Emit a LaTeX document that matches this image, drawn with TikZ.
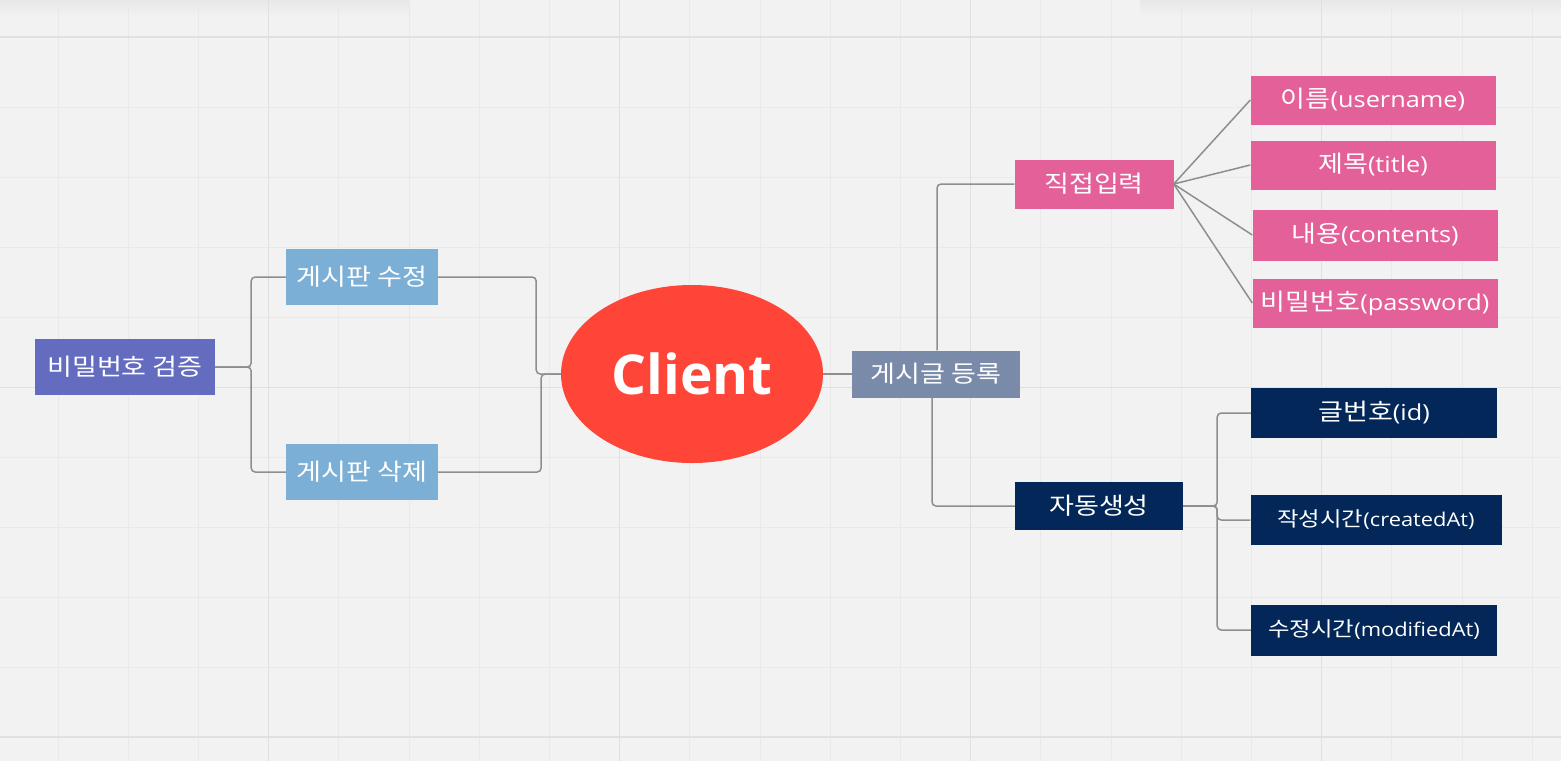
\documentclass[tikz,border=0pt]{standalone}
\usepackage{fontspec}
\setmainfont{Open Sans}[FakeStretch=1.15]
\newfontfamily\krfont{Noto Sans CJK KR}[FakeStretch=1.15, Scale=1.07]
\newfontfamily\bigfont{Open Sans}
\newcommand\ko[1]{{\krfont #1}}
\usetikzlibrary{shapes.geometric}
\definecolor{bg}{HTML}{F2F2F2}
\definecolor{gridminor}{HTML}{E9E9E9}
\definecolor{gridmajor}{HTML}{E0E0E0}
\definecolor{linegray}{HTML}{8E8E8E}
\definecolor{verifyblue}{HTML}{646CC0}
\definecolor{boardblue}{HTML}{7BAFD5}
\definecolor{clientred}{HTML}{FF4538}
\definecolor{postslate}{HTML}{7A8AA9}
\definecolor{inputpink}{HTML}{E36098}
\definecolor{autonavy}{HTML}{022758}
\begin{document}
\begin{tikzpicture}[x=1pt, y=-1pt,
    box/.style = {rectangle, inner sep=0pt, text=white, font=\fontsize{22}{26}\selectfont},
    small/.style = {font=\fontsize{19}{23}\selectfont},
    link/.style = {draw=linegray, line width=1.5pt, rounded corners=4pt}]
    % background and grid
    \fill[bg] (0,0) rectangle (1561,761);
    \useasboundingbox (0,0) rectangle (1561,761);
    \shade[top color=gray!18, bottom color=bg] (0,0) rectangle (410,16);
    \shade[top color=gray!18, bottom color=bg] (1140,0) rectangle (1561,16);
    \foreach \i in {0,...,21}
        \draw[gridminor, line width=1pt] (58+70.2*\i,0) -- (58+70.2*\i,761);
    \foreach \j in {0,...,10}
        \draw[gridminor, line width=1pt] (0,37+70*\j) -- (1561,37+70*\j);
    \foreach \x in {268,619,970,1321}
        \draw[gridmajor, line width=1pt] (\x,0) -- (\x,761);
    \foreach \y in {37,737}
        \draw[gridmajor, line width=2pt] (0,\y) -- (1561,\y);
    \draw[gridmajor, line width=1pt] (0,387) -- (1561,387);

    % nodes
    \node[ellipse, fill=clientred, minimum width=262, minimum height=178, inner sep=0pt,
          text=white, font=\bigfont\bfseries\fontsize{55}{60}\selectfont] (client) at (692,374) {Client};
    \node[box, fill=verifyblue, minimum width=180, minimum height=56] (verify) at (125,367) {\ko{비밀번호 검증}};
    \node[box, fill=boardblue, minimum width=152, minimum height=56] (edit) at (362,277) {\ko{게시판 수정}};
    \node[box, fill=boardblue, minimum width=152, minimum height=56] (del) at (362,472) {\ko{게시판 삭제}};
    \node[box, fill=postslate, minimum width=168, minimum height=47] (post) at (936,374) {\ko{게시글 등록}};
    \node[box, fill=inputpink, minimum width=159, minimum height=49] (direct) at (1094,184) {\ko{직접입력}};
    \node[box, fill=inputpink, minimum width=245, minimum height=49] (name) at (1373,100) {\ko{이름}(username)};
    \node[box, fill=inputpink, minimum width=245, minimum height=49] (title) at (1373,165) {\ko{제목}(title)};
    \node[box, fill=inputpink, minimum width=245, minimum height=51] (content) at (1375,235) {\ko{내용}(contents)};
    \node[box, fill=inputpink, minimum width=245, minimum height=49] (pass) at (1375,303) {\ko{비밀번호}(password)};
    \node[box, fill=autonavy, minimum width=168, minimum height=48] (auto) at (1099,506) {\ko{자동생성}};
    \node[box, fill=autonavy, minimum width=246, minimum height=50] (id) at (1374,413) {\ko{글번호}(id)};
    \node[box, small, fill=autonavy, minimum width=251, minimum height=50] (created) at (1376,520) {\ko{작성시간}(createdAt)};
    \node[box, small, fill=autonavy, minimum width=246, minimum height=51] (modified) at (1374,630) {\ko{수정시간}(modifiedAt)};

    % connectors
    \draw[link] (verify.east) -- ++(36,0) |- (edit.west);
    \draw[link] (verify.east) -- ++(36,0) |- (del.west);
    \draw[link] (edit.east) -- ++(98,0) |- (client.west);
    \draw[link] (del.east) -- ++(103,0) |- (client.west);
    \draw[link] (client.east) -- (post.west);
    \draw[link] ([xshift=1pt]post.north) |- (direct.west);
    \draw[link] ([xshift=-4pt]post.south) |- (auto.west);
    \foreach \leaf in {name,title,content,pass}
        \draw[linegray, line width=1.5pt] (direct.east) -- (\leaf.west);
    \foreach \leaf in {id,created,modified}
        \draw[link] (auto.east) -- ++(34,0) |- (\leaf.west);
\end{tikzpicture}
\end{document}
